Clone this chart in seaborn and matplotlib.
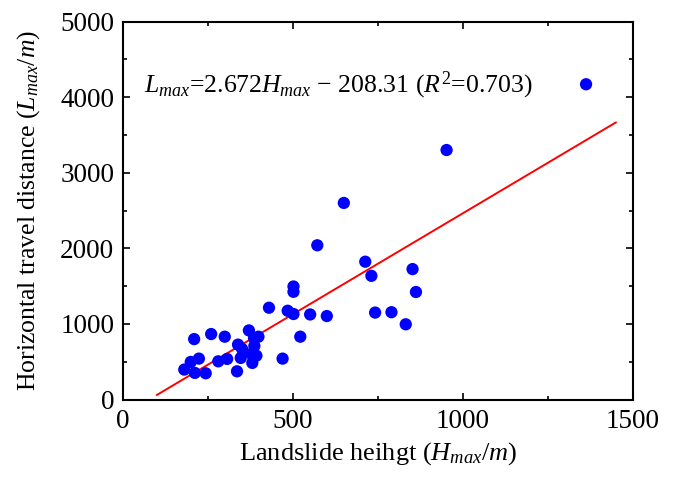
import matplotlib
matplotlib.use("Agg")
import matplotlib.pyplot as plt
import seaborn as sns
import numpy as np
import pandas as pd
from matplotlib.ticker import MultipleLocator

# ---- data ----
height = [1362, 952, 650, 572, 713, 731, 852, 862, 502, 502,
          430, 485, 502, 551, 600, 742, 790, 832, 522, 470,
          210, 260, 300, 371, 399, 386, 339, 351, 387, 378,
          393, 347, 381, 224, 200, 281, 307, 181, 212, 244, 336]
distance = [4170, 3300, 2600, 2040, 1823, 1636, 1725, 1422, 1495, 1425,
            1214, 1174, 1131, 1125, 1104, 1150, 1155, 995, 831, 541,
            799, 866, 831, 914, 831, 814, 726, 669, 708, 603,
            580, 550, 484, 541, 497, 505, 537, 396, 352, 347, 373]
slope = 2.672
intercept = -208.31
fit_range = [100, 1450]

df = pd.DataFrame({"H": height, "L": distance})
fit = pd.DataFrame({"H": fit_range})
fit["L"] = slope * fit["H"] + intercept

sns.set_theme(style="ticks")
plt.rcParams["font.family"] = ["Liberation Serif", "DejaVu Serif"]
plt.rcParams["mathtext.fontset"] = "custom"
plt.rcParams["mathtext.rm"] = "Liberation Serif"
plt.rcParams["mathtext.it"] = "Liberation Serif:italic"
plt.rcParams["text.color"] = "black"
plt.rcParams["axes.labelcolor"] = "black"
plt.rcParams["xtick.color"] = "black"
plt.rcParams["ytick.color"] = "black"

fig = plt.figure(figsize=(6.76, 4.78), dpi=100)
ax = fig.add_axes([0.1815, 0.1642, 0.9364 - 0.1815, 0.955 - 0.1642])

sns.lineplot(data=fit, x="H", y="L", ax=ax, color="#ff0000", linewidth=1.4)
sns.scatterplot(data=df, x="H", y="L", ax=ax, color="#0000ff", s=78,
                edgecolor="none", zorder=3)

ax.set_xlim(0, 1500)
ax.set_ylim(0, 5000)
ax.xaxis.set_major_locator(MultipleLocator(500))
ax.xaxis.set_minor_locator(MultipleLocator(250))
ax.yaxis.set_major_locator(MultipleLocator(1000))
ax.yaxis.set_minor_locator(MultipleLocator(500))
ax.tick_params(which="both", direction="in", top=True, right=True,
               labelsize=19.5, width=1.2, colors="black")
ax.tick_params(axis="x", which="both", pad=7)
ax.tick_params(axis="y", which="both", pad=6)
ax.tick_params(which="major", length=5)
ax.tick_params(which="minor", length=3)
for s in ax.spines.values():
    s.set_linewidth(1.5)
    s.set_color("black")

ax.set_xlabel(r"Landslide heihgt ($\mathit{H}_{max}$/$\mathit{m}$)", fontsize=19, labelpad=4, color="black")
ax.set_ylabel(r"Horizontal travel distance ($\mathit{L}_{max}$/$\mathit{m}$)", fontsize=18.5, labelpad=13, color="black")

ax.text(62, 4150,
        r"$\mathit{L}_{max}$=2.672$\mathit{H}_{max}$ $-$ 208.31 ($\mathit{R}^2$=0.703)",
        fontsize=18.5, va="center", ha="left", color="black")

fig.savefig("out.png", dpi=100)
